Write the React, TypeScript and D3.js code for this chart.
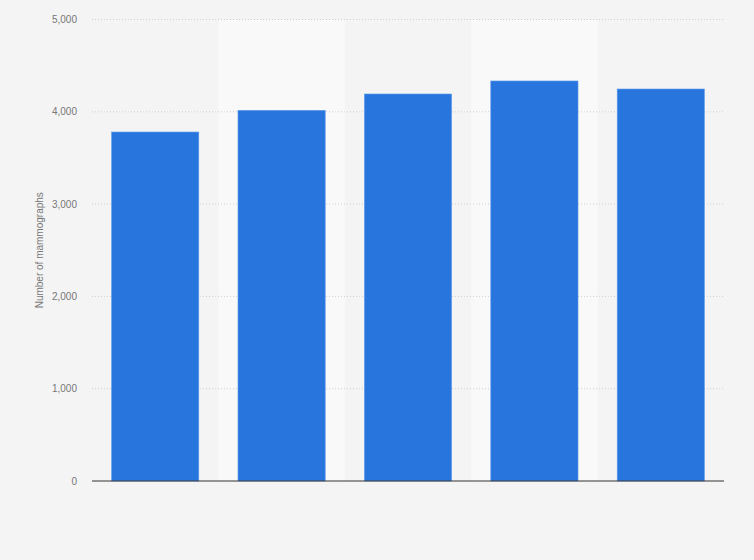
import * as d3 from 'd3';
import * as React from 'react';

const width = 754;
const height = 560;
const margin = { top: 19.5, right: 30, bottom: 79, left: 92 };

// categories are not labelled in the reference
const categories = ['c1', 'c2', 'c3', 'c4', 'c5'];
const mammographs = [3781, 4016, 4193, 4334, 4247];
const yTicks = [0, 1000, 2000, 3000, 4000, 5000];

export default function App() {
  const x = d3
    .scaleBand<string>()
    .domain(categories)
    .range([margin.left, width - margin.right])
    .paddingInner(0.31)
    .paddingOuter(0.155);

  const bands = d3
    .scaleBand<string>()
    .domain(categories)
    .range([margin.left, width - margin.right]);

  const y = d3
    .scaleLinear()
    .domain([0, 5000])
    .range([height - margin.bottom, margin.top]);

  const fmt = d3.format(',');

  return (
    <svg
      width={width}
      height={height}
      style={{ position: 'absolute', left: 0, top: 0, fontFamily: '"Liberation Sans", Arial, sans-serif' }}
    >
      <rect width={width} height={height} fill="#f4f4f4" />
      {categories.map((c, i) =>
        i % 2 === 1 ? (
          <rect
            key={'band' + c}
            x={bands(c)}
            y={y(5000)}
            width={bands.bandwidth()}
            height={y(0) - y(5000)}
            fill="#f9f9f9"
          />
        ) : null,
      )}
      {yTicks.map(t => (
        <g key={t}>
          {t > 0 && (
            <line
              x1={margin.left}
              x2={width - margin.right}
              y1={y(t)}
              y2={y(t)}
              stroke="#cfcfcf"
              strokeWidth={1}
              strokeDasharray="1,2"
            />
          )}
          <text
            x={77}
            y={y(t)}
            dy="0.35em"
            textAnchor="end"
            fontSize={10}
            fill="#777"
          >
            {fmt(t)}
          </text>
        </g>
      ))}
      {categories.map((c, i) => (
        <rect
          key={c}
          x={x(c)}
          y={y(mammographs[i])}
          width={x.bandwidth()}
          height={y(0) - y(mammographs[i])}
          fill="#2876dd"
          stroke="#5d9bec"
          strokeWidth={0.6}
        />
      ))}
      <line
        x1={margin.left}
        x2={width - margin.right}
        y1={y(0)}
        y2={y(0)}
        stroke="#333"
        strokeWidth={1.2}
      />
      <text
        transform={`translate(43,${(y(0) + y(5000)) / 2}) rotate(-90)`}
        textAnchor="middle"
        fontSize={10}
        fill="#777"
      >
        Number of mammographs
      </text>
    </svg>
  );
}
